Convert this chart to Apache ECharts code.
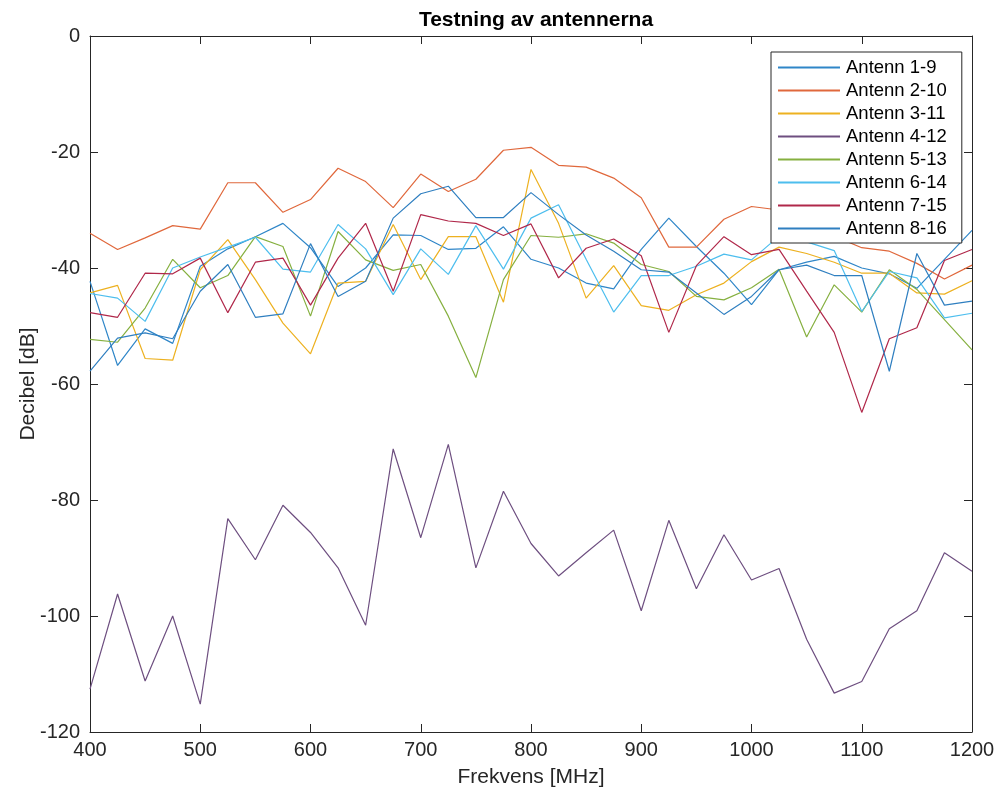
<!DOCTYPE html>
<html>
<head>
<meta charset="utf-8">
<script src="https://cdn.jsdelivr.net/npm/echarts@6/dist/echarts.min.js"></script>
<style>html,body{margin:0;padding:0;background:#fff;}#c{width:998px;height:793px;}</style>
</head>
<body>
<div id="c"></div>
<script>
const frequencies = [400,425,450,475,500,525,550,575,600,625,650,675,700,725,750,775,800,825,850,875,900,925,950,975,1000,1025,1050,1075,1100,1125,1150,1175,1200];
const seriesNames = ['Antenn 1-9','Antenn 2-10','Antenn 3-11','Antenn 4-12','Antenn 5-13','Antenn 6-14','Antenn 7-15','Antenn 8-16'];
const antenn1_9  = [-42.3,-56.8,-50.5,-53.0,-39.7,-36.7,-34.6,-32.3,-36.5,-43.2,-40.0,-34.3,-34.4,-36.8,-36.6,-32.9,-38.5,-40.0,-42.6,-43.6,-36.8,-31.4,-36.3,-40.9,-46.3,-40.3,-39.0,-38.0,-40.0,-41.0,-43.5,-38.5,-33.5];
const antenn2_10 = [-34.0,-36.8,-34.8,-32.7,-33.3,-25.3,-25.3,-30.4,-28.2,-22.8,-25.1,-29.6,-23.8,-26.8,-24.7,-19.7,-19.2,-22.3,-22.6,-24.5,-27.9,-36.4,-36.4,-31.6,-29.4,-30.0,-32.5,-34.5,-36.5,-37.1,-39.2,-41.9,-39.5];
const antenn3_11 = [-44.3,-43.0,-55.6,-55.9,-40.3,-35.1,-42.0,-49.5,-54.8,-42.6,-42.3,-32.5,-42.0,-34.6,-34.6,-45.9,-23.0,-32.3,-45.2,-39.6,-46.5,-47.3,-44.6,-42.6,-38.9,-36.4,-37.5,-39.0,-40.9,-40.9,-44.3,-44.5,-42.2];
const antenn4_12 = [-112.6,-96.2,-111.2,-100.0,-115.2,-83.2,-90.3,-80.9,-85.6,-91.7,-101.6,-71.2,-86.5,-70.4,-91.7,-78.5,-87.5,-93.1,-89.1,-85.2,-99.1,-83.5,-95.3,-86.0,-93.8,-91.8,-104.0,-113.3,-111.3,-102.2,-99.1,-89.1,-92.3];
const antenn5_13 = [-52.3,-52.8,-46.9,-38.5,-43.4,-41.3,-34.6,-36.3,-48.3,-33.7,-38.6,-40.4,-39.4,-48.3,-58.9,-42.0,-34.4,-34.7,-34.1,-35.7,-39.4,-40.6,-44.9,-45.5,-43.4,-40.2,-51.9,-42.9,-47.6,-40.3,-43.7,-48.9,-54.1];
const antenn6_14 = [-44.4,-45.2,-49.2,-40.0,-38.1,-36.4,-34.7,-40.2,-40.7,-32.5,-36.7,-44.6,-36.7,-41.1,-32.7,-40.2,-31.4,-29.1,-38.5,-47.6,-41.3,-41.3,-39.7,-37.6,-38.6,-34.5,-35.5,-37.0,-47.5,-40.6,-41.7,-48.6,-47.8];
const antenn7_15 = [-47.7,-48.5,-40.9,-41.0,-38.3,-47.7,-39.0,-38.3,-46.4,-38.3,-32.3,-44.0,-30.8,-31.9,-32.3,-34.4,-32.4,-41.7,-36.6,-35.0,-37.9,-51.1,-39.6,-34.6,-37.7,-36.8,-44.0,-51.1,-64.9,-52.2,-50.3,-38.7,-36.8];
const antenn8_16 = [-57.8,-52.1,-51.2,-52.2,-44.0,-39.4,-48.5,-47.9,-35.8,-44.9,-42.3,-31.4,-27.2,-25.9,-31.3,-31.3,-27.0,-30.8,-34.3,-37.1,-40.3,-40.7,-44.3,-48.0,-44.9,-40.3,-39.5,-41.3,-41.3,-57.8,-37.5,-46.4,-45.7];
const allValues = [antenn1_9,antenn2_10,antenn3_11,antenn4_12,antenn5_13,antenn6_14,antenn7_15,antenn8_16];
const colors = ['#2f86c8','#e0683c','#edb120','#6e4f80','#86b040','#4dbeee','#b0284a','#2f7fc0'];

const FONT = '"Liberation Sans", Arial, Helvetica, sans-serif';
const AX = '#262626';

const chart = echarts.init(document.getElementById('c'));
const series = seriesNames.map((n,i)=>({
  name:n, type:'line', xAxisIndex:0, yAxisIndex:0,
  data: frequencies.map((f,j)=>[f, allValues[i][j]]),
  showSymbol:false, symbol:'none', silent:true, animation:false,
  lineStyle:{color:colors[i], width:1.2}, itemStyle:{color:colors[i]}
}));

const tickStyle = {show:true, inside:true, length:8, lineStyle:{color:AX, width:1}};
chart.setOption({
  backgroundColor:'#fff',
  animation:false,
  title:{text:'Testning av antennerna', left:531, top:5, textAlign:'center',
    textStyle:{fontFamily:FONT, fontSize:21, fontWeight:'bold', color:'#000'}},
  legend:{orient:'vertical', left:771, top:52, data:seriesNames,
    backgroundColor:'#fff', borderColor:AX, borderWidth:1, padding:[6,15,5,7],
    itemGap:4, itemWidth:62, itemHeight:2, icon:'rect',
    textStyle:{fontFamily:FONT, fontSize:18.5, color:'#000', padding:[0,0,0,1]}},
  grid:{left:90, right:26, top:36, bottom:60, containLabel:false},
  xAxis:[
    {type:'value', min:400, max:1200, interval:100, position:'bottom',
     name:'Frekvens [MHz]', nameLocation:'middle', nameGap:35, nameMoveOverlap:false,
     nameTextStyle:{fontFamily:FONT, fontSize:21, color:AX},
     axisLine:{show:true, onZero:false, lineStyle:{color:AX, width:1}},
     axisTick:tickStyle, splitLine:{show:false},
     axisLabel:{fontFamily:FONT, fontSize:20, color:AX, margin:8, formatter:(v)=>String(v)}},
    {type:'value', min:400, max:1200, interval:100, position:'top',
     axisLine:{show:true, onZero:false, lineStyle:{color:AX, width:1}},
     axisTick:tickStyle, splitLine:{show:false}, axisLabel:{show:false}}
  ],
  yAxis:[
    {type:'value', min:-120, max:0, interval:20, position:'left',
     name:'Decibel [dB]', nameLocation:'middle', nameGap:51, nameRotate:90, nameMoveOverlap:false,
     nameTextStyle:{fontFamily:FONT, fontSize:21, color:AX},
     axisLine:{show:true, onZero:false, lineStyle:{color:AX, width:1}},
     axisTick:tickStyle, splitLine:{show:false},
     axisLabel:{fontFamily:FONT, fontSize:20, color:AX, margin:10, formatter:(v)=>String(v)}},
    {type:'value', min:-120, max:0, interval:20, position:'right',
     axisLine:{show:true, onZero:false, lineStyle:{color:AX, width:1}},
     axisTick:tickStyle, splitLine:{show:false}, axisLabel:{show:false}}
  ],
  series: series
});
</script>
</body>
</html>
